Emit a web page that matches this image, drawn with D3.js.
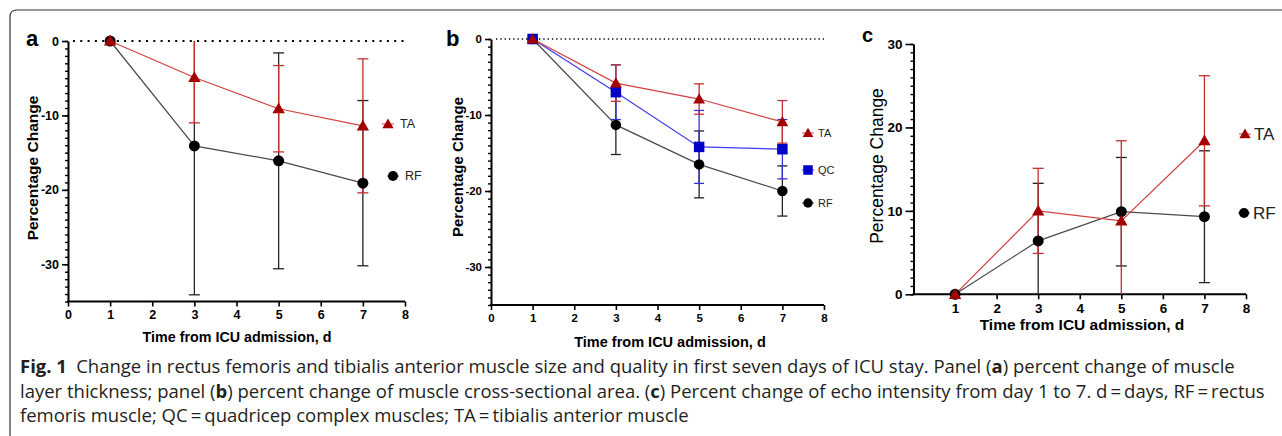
<!DOCTYPE html>
<html>
<head>
<meta charset="utf-8">
<script src="https://cdn.jsdelivr.net/npm/d3@7"></script>
<style>
  html, body { margin: 0; padding: 0; background: #fff; }
  svg { display: block; }
</style>
</head>
<body>
<svg id="chart" width="1282" height="436"></svg>
<script>
// days of ICU stay
const days = [1, 3, 5, 7];

// panel a: muscle layer thickness, % change (mean, sd)
const aTAMean = [0, -4.9, -9.1, -11.4];
const aTASd = [0, 6.1, 5.8, 9.0];
const aRFMean = [0, -14.1, -16.1, -19.1];
const aRFSd = [0, 20.0, 14.5, 11.1];

// panel b: cross-sectional area, % change
const bTAMean = [0, -5.8, -7.9, -10.9];
const bTASd = [0, 2.4, 2.0, 2.8];
const bQCMean = [0, -7.0, -14.2, -14.5];
const bQCSd = [0, 3.6, 4.8, 3.9];
const bRFMean = [0, -11.3, -16.5, -20.0];
const bRFSd = [0, 3.9, 4.4, 3.3];

// panel c: echo intensity, % change
const cTAMean = [0, 10.0, 8.8, 18.4];
const cTASd = [0, 5.1, 9.6, 7.8];
const cRFMean = [0, 6.4, 9.9, 9.3];
const cRFSd = [0, 6.9, 6.5, 7.9];

const xTicksAB = [0, 1, 2, 3, 4, 5, 6, 7, 8];
const xTicksC = [1, 2, 3, 4, 5, 6, 7, 8];
const yTicksAB = [0, -10, -20, -30];
const yTicksC = [0, 10, 20, 30];

const xTitle = "Time from ICU admission, d";
const yTitle = "Percentage Change";

const RED = "#a30000", RED_LINE = "#d24040";
const BLUE = "#0000c8", BLUE_LINE = "#3b3bf5";
const BLACK = "#000", BLACK_LINE = "#4a4a4a";

const svg = d3.select("#chart");
const sans = "'Liberation Sans', Arial, sans-serif";

// frame around the figure
svg.append("path")
  .attr("d", "M10,436 L10,17 Q10,10 17,10 L1282,10")
  .attr("fill", "none")
  .attr("stroke", "#333")
  .attr("stroke-width", 1.2);

function marker(g, shape, cx, cy, fill, size) {
  if (shape === "circle") {
    g.append("circle").attr("cx", cx).attr("cy", cy).attr("r", size / 2).attr("fill", fill);
  } else if (shape === "square") {
    g.append("rect").attr("x", cx - size / 2).attr("y", cy - size / 2)
      .attr("width", size).attr("height", size).attr("fill", fill);
  } else {
    const s = d3.symbol().type(d3.symbolTriangle).size(size * size * 0.55);
    g.append("path").attr("transform", `translate(${cx},${cy + 1})`).attr("d", s()).attr("fill", fill);
  }
}

function drawPanel(p) {
  const g = svg.append("g");
  const x = d3.scaleLinear().domain(p.xDomain).range(p.xRange);
  const y = d3.scaleLinear().domain(p.yDomain).range(p.yRange).clamp(true);
  const plain = d => String(d);

  // x axis
  const xa = g.append("g")
    .attr("transform", `translate(0,${p.yRange[0]})`)
    .call(d3.axisBottom(x).tickValues(p.xTicks).tickFormat(plain).tickSize(5).tickSizeOuter(0).tickPadding(4));
  xa.select(".domain").attr("stroke-width", 2).attr("d", `M${p.xRange[0] - 1},0H${p.xRange[1]}`);
  xa.selectAll(".tick line").attr("stroke-width", 1.6);
  xa.selectAll("text").attr("font-family", sans).attr("font-weight", "bold")
    .attr("font-size", p.tickSize).attr("fill", "#000");

  // y axis minor ticks
  const yMin = d3.min(p.yDomain), yMax = d3.max(p.yDomain);
  g.append("g")
    .attr("transform", `translate(${p.xRange[0]},0)`)
    .call(d3.axisLeft(y).tickValues(d3.range(yMin, yMax + 1, 1)).tickSize(p.minorLen).tickFormat(""))
    .call(s => s.select(".domain").remove())
    .selectAll(".tick line").attr("stroke-width", 1.4);

  // y axis
  const ya = g.append("g")
    .attr("transform", `translate(${p.xRange[0]},0)`)
    .call(d3.axisLeft(y).tickValues(p.yTicks).tickFormat(plain).tickSize(p.majorLen).tickSizeOuter(0).tickPadding(3));
  ya.select(".domain").attr("stroke-width", 2);
  ya.selectAll(".tick line").attr("stroke-width", 1.6);
  ya.selectAll("text").attr("font-family", sans).attr("font-weight", "bold")
    .attr("font-size", p.tickSize).attr("fill", "#000");

  // dotted zero line
  if (p.zeroLine) {
    g.append("line")
      .attr("x1", p.xRange[0] + 5).attr("x2", p.xRange[1])
      .attr("y1", y(0)).attr("y2", y(0))
      .attr("stroke", "#000").attr("stroke-width", p.zeroLine.w)
      .attr("stroke-dasharray", p.zeroLine.dash);
  }

  // error bars
  p.series.forEach(s => {
    const eg = g.append("g").attr("stroke", s.errColor).attr("stroke-width", 1.3);
    days.forEach((d, i) => {
      if (s.sd[i] === 0) return;
      const hi = s.mean[i] + s.sd[i], lo = s.mean[i] - s.sd[i];
      eg.append("line").attr("x1", x(d)).attr("x2", x(d)).attr("y1", y(hi)).attr("y2", y(lo));
      [hi, lo].forEach(v => {
        if (v > yMax || v < yMin) return;
        eg.append("line").attr("x1", x(d) - p.cap).attr("x2", x(d) + p.cap)
          .attr("y1", y(v)).attr("y2", y(v));
      });
    });
  });

  // lines
  p.series.forEach(s => {
    g.append("path")
      .datum(days.map((d, i) => [d, s.mean[i]]))
      .attr("fill", "none")
      .attr("stroke", s.lineColor)
      .attr("stroke-width", 1.2)
      .attr("d", d3.line().x(d => x(d[0])).y(d => y(d[1])));
  });

  // markers
  p.series.forEach(s => {
    days.forEach((d, i) => marker(g, s.shape, x(d), y(s.mean[i]), s.color, s.shape === "square" ? p.msize : p.msize));
  });

  // legend
  p.series.forEach(s => {
    const lg = g.append("g");
    lg.append("line").attr("x1", s.legend[0] - 6).attr("x2", s.legend[0] + 6)
      .attr("y1", s.legend[1]).attr("y2", s.legend[1])
      .attr("stroke", s.lineColor).attr("stroke-width", 1);
    marker(lg, s.shape, s.legend[0], s.legend[1], s.color, p.legendMarker);
    lg.append("text")
      .attr("x", s.legend[0] + p.legendGap).attr("y", s.legend[1])
      .attr("dy", "0.35em")
      .attr("font-family", sans).attr("font-size", p.legendFont).attr("fill", "#222")
      .text(s.name);
  });

  // titles
  g.append("text")
    .attr("transform", `translate(${p.yTitlePos[0]},${p.yTitlePos[1]}) rotate(-90)`)
    .attr("text-anchor", "middle").attr("dy", "0.35em")
    .attr("font-family", sans).attr("font-weight", p.yTitleWeight)
    .attr("font-size", p.yTitleSize).attr("fill", "#000")
    .text(yTitle);

  g.append("text")
    .attr("x", p.xTitlePos[0]).attr("y", p.xTitlePos[1])
    .attr("text-anchor", "middle")
    .attr("font-family", sans).attr("font-weight", "bold")
    .attr("font-size", p.xTitleSize).attr("fill", "#000")
    .text(xTitle);

  g.append("text")
    .attr("x", p.labelPos[0]).attr("y", p.labelPos[1])
    .attr("font-family", sans).attr("font-weight", "bold")
    .attr("font-size", p.labelSize).attr("fill", "#000")
    .text(p.label);
}

drawPanel({
  label: "a", labelPos: [26, 46], labelSize: 22,
  xDomain: [0, 8], xRange: [68, 405], yDomain: [-35, 0], yRange: [301.5, 41],
  xTicks: xTicksAB, yTicks: yTicksAB, tickSize: 12.5,
  majorLen: 6, minorLen: 3, cap: 5.5, msize: 11,
  zeroLine: { w: 2, dash: "2,5.3" },
  series: [
    { name: "RF", mean: aRFMean, sd: aRFSd, shape: "circle", color: BLACK, lineColor: BLACK_LINE, errColor: "#222", legend: [393, 176] },
    { name: "TA", mean: aTAMean, sd: aTASd, shape: "triangle", color: RED, lineColor: RED_LINE, errColor: "#c03030", legend: [388, 124] }
  ],
  legendMarker: 10, legendGap: 12, legendFont: 12.5,
  yTitlePos: [33, 168], yTitleWeight: "bold", yTitleSize: 15.5,
  xTitlePos: [237, 342], xTitleSize: 14.3
});

drawPanel({
  label: "b", labelPos: [446, 46], labelSize: 22,
  xDomain: [0, 8], xRange: [491, 824], yDomain: [-35, 0], yRange: [305, 39],
  xTicks: xTicksAB, yTicks: yTicksAB, tickSize: 11.5,
  majorLen: 6, minorLen: 3, cap: 5, msize: 10.5,
  zeroLine: { w: 1.3, dash: "1.3,3" },
  series: [
    { name: "RF", mean: bRFMean, sd: bRFSd, shape: "circle", color: BLACK, lineColor: BLACK_LINE, errColor: "#222", legend: [808, 203] },
    { name: "QC", mean: bQCMean, sd: bQCSd, shape: "square", color: BLUE, lineColor: BLUE_LINE, errColor: "#3030e0", legend: [808, 170] },
    { name: "TA", mean: bTAMean, sd: bTASd, shape: "triangle", color: RED, lineColor: RED_LINE, errColor: "#c03030", legend: [808, 133] }
  ],
  legendMarker: 9.5, legendGap: 10, legendFont: 11,
  yTitlePos: [458, 167], yTitleWeight: "bold", yTitleSize: 15,
  xTitlePos: [670, 347], xTitleSize: 14.5
});

drawPanel({
  label: "c", labelPos: [862, 42], labelSize: 20,
  xDomain: [0, 8], xRange: [913.5, 1246], yDomain: [0, 30], yRange: [294.3, 44],
  xTicks: xTicksC, yTicks: yTicksC, tickSize: 13.5,
  majorLen: 8, minorLen: 3, cap: 5.5, msize: 11,
  zeroLine: null,
  series: [
    { name: "RF", mean: cRFMean, sd: cRFSd, shape: "circle", color: BLACK, lineColor: BLACK_LINE, errColor: "#222", legend: [1244, 213] },
    { name: "TA", mean: cTAMean, sd: cTASd, shape: "triangle", color: RED, lineColor: RED_LINE, errColor: "#c03030", legend: [1245, 134] }
  ],
  legendMarker: 10, legendGap: 9, legendFont: 17,
  yTitlePos: [877, 166], yTitleWeight: "normal", yTitleSize: 17.5,
  xTitlePos: [1082, 330], xTitleSize: 15.5
});

// caption
const capFont = "'Open Sans', 'Noto Sans', sans-serif";
const captionLines = [
  [["b", "Fig. 1"], ["n", "\u2002Change in rectus femoris and tibialis anterior muscle size and quality in first seven days of ICU stay. Panel ("], ["b", "a"], ["n", ") percent change of muscle"]],
  [["n", "layer thickness; panel ("], ["b", "b"], ["n", ") percent change of muscle cross-sectional area. ("], ["b", "c"], ["n", ") Percent change of echo intensity from day 1 to 7. d\u2009=\u2009days, RF\u2009=\u2009rectus"]],
  [["n", "femoris muscle; QC\u2009=\u2009quadricep complex muscles; TA\u2009=\u2009tibialis anterior muscle"]]
];
const capBase = [373, 398, 422];
captionLines.forEach((parts, i) => {
  const t = svg.append("text")
    .attr("x", 20).attr("y", capBase[i])
    .attr("font-family", capFont).attr("font-size", 18.5).attr("fill", "#231f20");
  parts.forEach(([w, s]) => {
    t.append("tspan").attr("font-weight", w === "b" ? "bold" : "normal").text(s);
  });
});
</script>
</body>
</html>
